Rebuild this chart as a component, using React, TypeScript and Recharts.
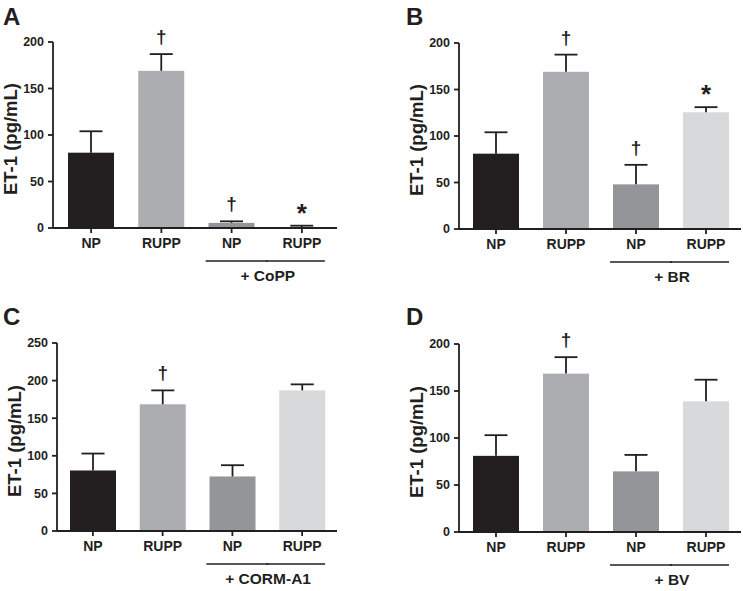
import React from 'react';
import { BarChart, Bar, XAxis, YAxis, Cell } from 'recharts';

// ---------- data ----------
const categories = ['NP', 'RUPP', 'NP', 'RUPP'];
const ticks200 = [0, 50, 100, 150, 200];
const ticks250 = [0, 50, 100, 150, 200, 250];

const meanA = [81, 169, 5.5, 1];
const semA = [23, 18, 1.7, 1.5];
const markA = ['', '†', '†', '*'];

const meanB = [81, 169, 48, 125.5];
const semB = [23, 18.5, 21, 5.5];
const markB = ['', '†', '†', '*'];

const meanC = [80.5, 168.5, 72.5, 187];
const semC = [22.5, 18.5, 15, 8];
const markC = ['', '†', '', ''];

const meanD = [81, 168.5, 64.5, 139];
const semD = [22, 17.5, 17.5, 23];
const markD = ['', '†', '', ''];

// ---------- style ----------
const ink = '#231f20';
const barColors = ['#231f20', '#abadb0', '#939598', '#d8d9da'];
const font = '"Liberation Sans", Arial, Helvetica, sans-serif';

const build = (mean: number[], sem: number[], mark: string[]) =>
  categories.map((c, i) => ({ key: 'k' + i, label: c, mean: mean[i], sem: sem[i], mark: mark[i] }));

const BarWithError = (props: any) => {
  const { x, y, width, height, fill, payload } = props;
  const ppu = payload.mean > 0 ? height / payload.mean : 0;
  const errY = y - payload.sem * ppu;
  const cx = x + width / 2;
  const isStar = payload.mark === '*';
  return (
    <g>
      <rect x={x} y={y} width={width} height={height} fill={fill} />
      <line x1={cx} x2={cx} y1={y} y2={errY} stroke={ink} strokeWidth={1.8} />
      <line x1={cx - 11.5} x2={cx + 11.5} y1={errY} y2={errY} stroke={ink} strokeWidth={1.8} />
      {payload.mark ? (
        <text
          x={cx}
          y={isStar ? errY - 4 : errY - 11}
          textAnchor="middle"
          fontSize={isStar ? 26 : 19}
          fontWeight="bold"
          fill={ink}
          fontFamily={font}
        >
          {payload.mark}
        </text>
      ) : null}
    </g>
  );
};

const makeTick = (group: string) => (props: any) => {
  const { x, y, payload } = props;
  const i = payload && payload.index != null ? payload.index : props.index;
  return (
    <g>
      <text x={x} y={y + 15} textAnchor="middle" fontSize={14} fontWeight="bold" fill={ink} fontFamily={font}>
        {categories[i]}
      </text>
      {i === 2 ? <line x1={x - 26} x2={x + 36} y1={y + 28} y2={y + 28} stroke={ink} strokeWidth={1.5} /> : null}
      {i === 3 ? (
        <g>
          <line x1={x - 36} x2={x + 23} y1={y + 28} y2={y + 28} stroke={ink} strokeWidth={1.5} />
          <text x={x - 34} y={y + 48} textAnchor="middle" fontSize={15.5} fontWeight="bold" fill={ink} fontFamily={font}>
            {group}
          </text>
        </g>
      ) : null}
    </g>
  );
};

const yLabel = (props: any) => {
  const vb = props.viewBox || {};
  const cx = vb.x + vb.width - 43;
  const cy = vb.y + vb.height / 2 + 4;
  return (
    <text
      x={cx}
      y={cy}
      transform={`rotate(-90 ${cx} ${cy})`}
      textAnchor="middle"
      dominantBaseline="central"
      fontSize={18.5}
      fontWeight="bold"
      fill={ink}
      fontFamily={font}
    >
      ET-1 (pg/mL)
    </text>
  );
};

type PanelProps = {
  left: number;
  top: number;
  width: number;
  height: number;
  marginTop: number;
  marginRight: number;
  yWidth: number;
  xHeight: number;
  padLeft: number;
  yMax: number;
  ticks: number[];
  data: any[];
  letter: string;
  letterX: number;
  group: string;
};

const Panel = (p: PanelProps) => (
  <div style={{ position: 'absolute', left: p.left, top: p.top, width: p.width, height: p.height }}>
    <BarChart
      width={p.width}
      height={p.height}
      data={p.data}
      margin={{ top: p.marginTop, right: p.marginRight, bottom: 0, left: 0 }}
      barSize={46}
    >
      <XAxis
        dataKey="key"
        height={p.xHeight}
        padding={{ left: p.padLeft, right: 0 }}
        axisLine={{ stroke: ink, strokeWidth: 1.8 }}
        tickLine={{ stroke: ink, strokeWidth: 1.8 }}
        tickSize={5}
        tickMargin={0}
        interval={0}
        tick={makeTick(p.group)}
      />
      <YAxis
        width={p.yWidth}
        domain={[0, p.yMax]}
        ticks={p.ticks}
        interval={0}
        axisLine={{ stroke: ink, strokeWidth: 1.8 }}
        tickLine={{ stroke: ink, strokeWidth: 1.8 }}
        tickSize={5}
        tickMargin={4}
        tick={{ fontSize: 12.5, fontWeight: 'bold', fill: ink, fontFamily: font }}
        label={yLabel}
      />
      <Bar dataKey="mean" isAnimationActive={false} shape={BarWithError}>
        {p.data.map((d, i) => (
          <Cell key={d.key} fill={barColors[i]} />
        ))}
      </Bar>
    </BarChart>
    <svg
      width={60}
      height={32}
      style={{ position: 'absolute', left: p.letterX, top: 0, pointerEvents: 'none', overflow: 'visible' }}
    >
      <text x={0} y={25} fontSize={24} fontWeight="bold" fill={ink} fontFamily={font}>
        {p.letter}
      </text>
    </svg>
  </div>
);

export default function App() {
  return (
    <div style={{ position: 'absolute', left: 0, top: 0, width: 743, height: 591, background: '#fff', overflow: 'hidden' }}>
      <Panel left={0} top={0} width={371} height={300} marginTop={42} marginRight={34} yWidth={53} xHeight={72}
        padLeft={3} yMax={200} ticks={ticks200} data={build(meanA, semA, markA)} letter="A" letterX={3} group="+ CoPP" />
      <Panel left={371} top={0} width={372} height={300} marginTop={43} marginRight={2} yWidth={88} xHeight={71}
        padLeft={2} yMax={200} ticks={ticks200} data={build(meanB, semB, markB)} letter="B" letterX={35} group="+ BR" />
      <Panel left={0} top={300} width={371} height={291} marginTop={43} marginRight={34} yWidth={57} xHeight={60}
        padLeft={1} yMax={250} ticks={ticks250} data={build(meanC, semC, markC)} letter="C" letterX={3} group="+ CORM-A1" />
      <Panel left={371} top={300} width={372} height={291} marginTop={44} marginRight={2} yWidth={88} xHeight={59}
        padLeft={2} yMax={200} ticks={ticks200} data={build(meanD, semD, markD)} letter="D" letterX={35} group="+ BV" />
    </div>
  );
}
